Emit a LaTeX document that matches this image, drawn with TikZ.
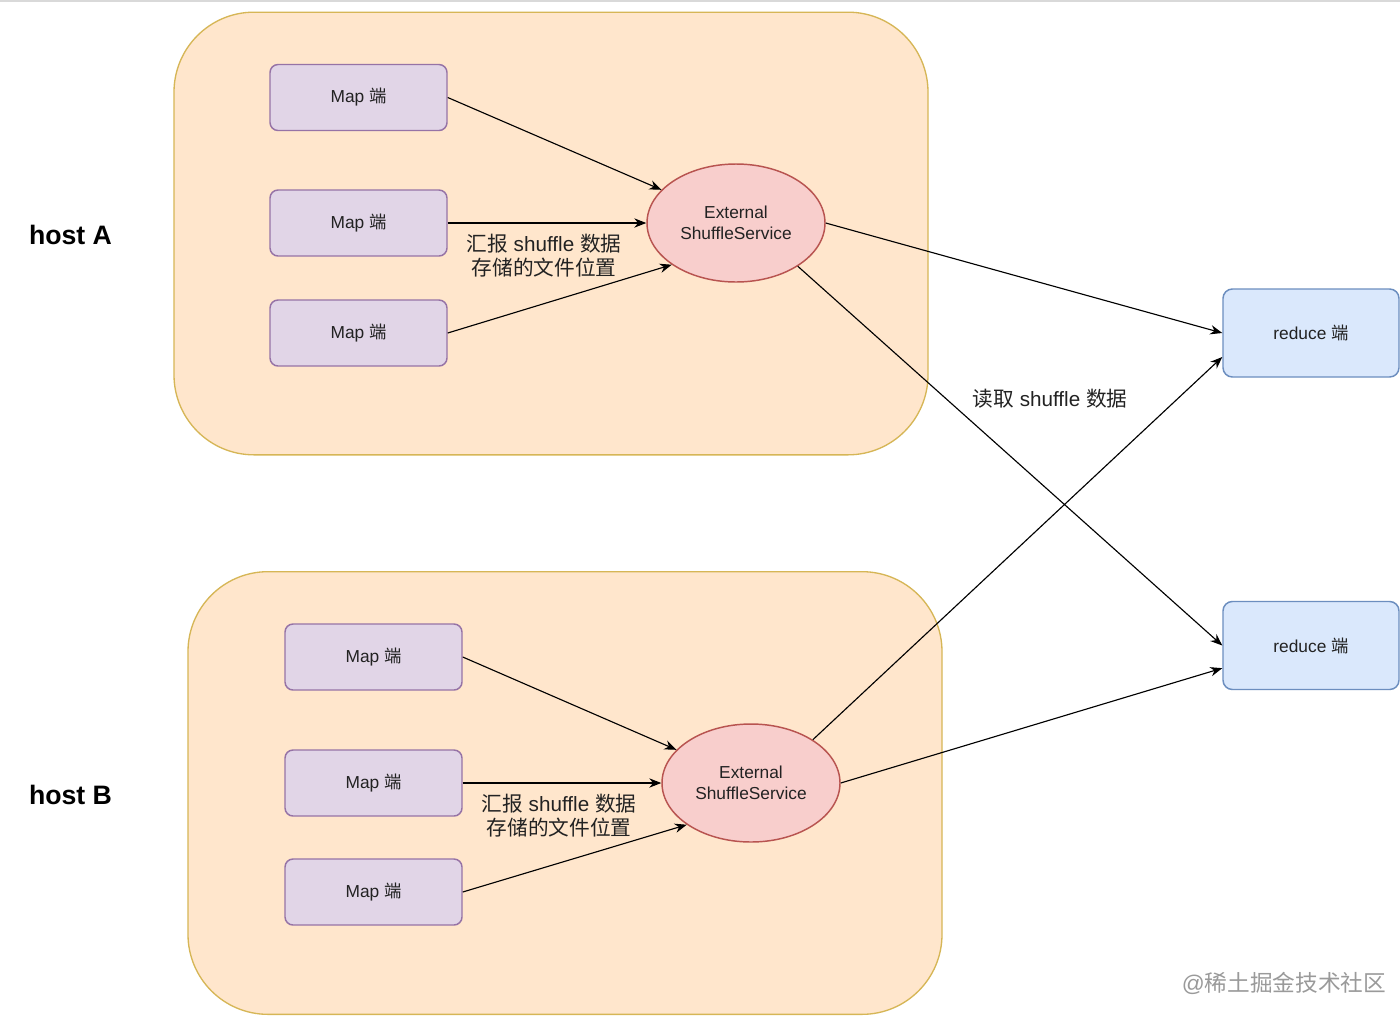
\documentclass[tikz,border=0pt]{standalone}
\usepackage{fontspec}
\setmainfont{Liberation Sans}
\newfontfamily\cjk{Noto Sans CJK SC}
\usetikzlibrary{shapes.geometric,arrows.meta}
\definecolor{hostfill}{HTML}{FFE6CC}
\definecolor{hostdraw}{HTML}{D6B656}
\definecolor{mapfill}{HTML}{E1D5E7}
\definecolor{mapdraw}{HTML}{9673A6}
\definecolor{essfill}{HTML}{F8CECC}
\definecolor{essdraw}{HTML}{B85450}
\definecolor{redfill}{HTML}{DAE8FC}
\definecolor{reddraw}{HTML}{6C8EBF}
\definecolor{txt}{HTML}{222222}
\definecolor{wm}{HTML}{9A9A9A}
\tikzset{
  hostbox/.style={draw=hostdraw,fill=hostfill,line width=1pt,rounded corners=60pt,
    minimum width=565.5pt,minimum height=332pt,inner sep=0pt},
  mapbox/.style={draw=mapdraw,fill=mapfill,line width=1.1pt,rounded corners=6pt,
    minimum width=132.75pt,minimum height=49.5pt,inner sep=0pt,
    font=\fontsize{13pt}{15pt}\selectfont,text=txt},
  redbox/.style={draw=reddraw,fill=redfill,line width=1.1pt,rounded corners=7pt,
    minimum width=132pt,minimum height=66pt,inner sep=0pt,
    font=\fontsize{13pt}{15pt}\selectfont,text=txt},
  ess/.style={ellipse,draw=essdraw,fill=essfill,line width=1.1pt,
    minimum width=133.5pt,minimum height=88.5pt,inner sep=0pt,align=center,
    font=\fontsize{13pt}{15.5pt}\selectfont,text=txt},
  arr/.style={-{Stealth[length=9pt,width=7pt]},line width=0.85pt,draw=black},
  lbl/.style={align=center,font=\fontsize{15.5pt}{18pt}\selectfont,text=txt,inner sep=0pt},
  hostlbl/.style={font=\fontsize{20pt}{22pt}\selectfont\bfseries,text=black,inner sep=0pt},
}
\begin{document}
\begin{tikzpicture}[x=0.75pt,y=-0.75pt]
\useasboundingbox[fill=white] (0,0) rectangle (1400,1015);
\draw[black!15,line width=1pt] (0,1) -- (1400,1);
% containers
\node[hostbox] (hostA) at (551,233.5) {};
\node[hostbox] (hostB) at (565,793) {};
% host labels
\node[hostlbl] (hla) at (70.5,235) {host A};
\node[hostlbl] (hlb) at (70.5,795) {host B};
% host A
\node[mapbox] (a1) at (358.5,97.5) {Map {\cjk 端}};
\node[mapbox] (a2) at (358.5,223) {Map {\cjk 端}};
\node[mapbox] (a3) at (358.5,333) {Map {\cjk 端}};
\node[ess] (eA) at (736,223) {External\\ShuffleService};
% host B
\node[mapbox] (b1) at (373.5,657) {Map {\cjk 端}};
\node[mapbox] (b2) at (373.5,783) {Map {\cjk 端}};
\node[mapbox] (b3) at (373.5,892) {Map {\cjk 端}};
\node[ess] (eB) at (751,783) {External\\ShuffleService};
% reduce
\node[redbox] (r1) at (1311,333) {reduce {\cjk 端}};
\node[redbox] (r2) at (1311,645.5) {reduce {\cjk 端}};
% arrows host A
\draw[arr] (a1.east) -- (eA.156);
\draw[arr] (a2.east) -- (eA.west);
\draw[arr] (a3.east) -- (eA.213);
% arrows host B
\draw[arr] (b1.east) -- (eB.156);
\draw[arr] (b2.east) -- (eB.west);
\draw[arr] (b3.east) -- (eB.213);
% to reducers
\draw[arr] (eA.east) -- (r1.west);
\draw[arr] (eA.-35) -- (r2.west);
\draw[arr] (eB.35) -- ([yshift=-18pt]r1.west);
\draw[arr] (eB.east) -- ([yshift=-17pt]r2.west);
% labels
\node[lbl] (la) at (544,256) {{\cjk 汇报} shuffle {\cjk 数据}\\{\cjk 存储的文件位置}};
\node[lbl] (lb) at (559,816) {{\cjk 汇报} shuffle {\cjk 数据}\\{\cjk 存储的文件位置}};
\node[lbl] (lr) at (1050,399) {{\cjk 读取} shuffle {\cjk 数据}};
\node[inner sep=0pt,text=wm,font=\fontsize{17pt}{20pt}\selectfont] (wmk) at (1284,983) {@{\cjk 稀土掘金技术社区}};
\end{tikzpicture}
\end{document}
